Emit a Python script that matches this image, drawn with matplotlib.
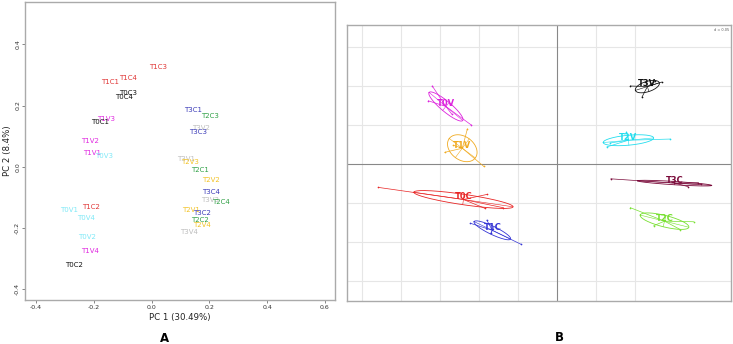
import numpy as np
import matplotlib
matplotlib.use("Agg")
import matplotlib.pyplot as plt

# ---------------- Panel A data (PCA sample scores) ----------------
a_labels = ["T1C3", "T1C4", "T1C1", "T0C3", "T0C4", "T3C1", "T2C3", "T1V3", "T0C1",
            "T3V2", "T3C3", "T1V2", "T1V1", "T0V3", "T3V1", "T2V3", "T2C1", "T2V2",
            "T3C4", "T3V3", "T2C4", "T1C2", "T0V1", "T2V1", "T3C2", "T0V4", "T2C2",
            "T2V4", "T3V4", "T0V2", "T1V4", "T0C2"]
a_pc1 = [0.021, -0.082, -0.142, -0.080, -0.094, 0.145, 0.204, -0.158, -0.178,
         0.171, 0.161, -0.212, -0.205, -0.164, 0.118, 0.133, 0.166, 0.206,
         0.206, 0.201, 0.239, -0.211, -0.284, 0.135, 0.174, -0.228, 0.166,
         0.176, 0.131, -0.225, -0.213, -0.269]
a_pc2 = [0.325, 0.289, 0.278, 0.242, 0.228, 0.185, 0.167, 0.157, 0.146,
         0.125, 0.114, 0.083, 0.044, 0.036, 0.024, 0.014, -0.009, -0.042,
         -0.083, -0.107, -0.116, -0.132, -0.141, -0.140, -0.150, -0.168, -0.174,
         -0.191, -0.214, -0.228, -0.274, -0.320]
a_colors = {"T0C": "#111111", "T1C": "#E03535", "T0V": "#7FE9F7", "T1V": "#E028E0",
            "T2C": "#2FA045", "T2V": "#F2C225", "T3C": "#3A3AB8", "T3V": "#BDBDBD"}
a_xticks = [-0.4, -0.2, 0.0, 0.2, 0.4, 0.6]
a_yticks = [-0.4, -0.2, 0.0, 0.2, 0.4]

# ---------------- Panel B data (group scores, 4 samples each) ----------------
b_groups = ["T0V", "T1V", "T0C", "T1C", "T3V", "T2V", "T3C", "T2C"]
b_x = {
    "T0V": [-0.160, -0.165, -0.110, -0.135],
    "T1V": [-0.115, -0.144, -0.094, -0.133],
    "T0C": [-0.229, -0.090, -0.092, -0.069],
    "T1C": [-0.111, -0.090, -0.085, -0.046],
    "T3V": [0.094, 0.134, 0.109, 0.126],
    "T2V": [0.089, 0.145, 0.064, 0.068],
    "T3C": [0.069, 0.181, 0.185, 0.168],
    "T2C": [0.094, 0.175, 0.124, 0.158],
}
b_y = {
    "T0V": [0.100, 0.081, 0.050, 0.064],
    "T1V": [0.045, 0.015, -0.003, 0.024],
    "T0C": [-0.030, -0.039, -0.057, -0.056],
    "T1C": [-0.076, -0.072, -0.089, -0.103],
    "T3V": [0.100, 0.105, 0.086, 0.106],
    "T2V": [0.041, 0.032, 0.022, 0.027],
    "T3C": [-0.019, -0.024, -0.026, -0.029],
    "T2C": [-0.056, -0.074, -0.079, -0.084],
}
b_colors = {"T0V": "#DD22DD", "T1V": "#F0AA20", "T0C": "#E82525", "T1C": "#3535D5",
            "T3V": "#111111", "T2V": "#22DDEE", "T3C": "#7A0A3A", "T2C": "#77E030"}
b_grid_x = [-0.25, -0.20, -0.15, -0.10, -0.05, 0.05, 0.10]
b_grid_y = [-0.15, -0.10, -0.05, 0.05, 0.10, 0.15]
b_d = "d = 0.05"

W, H = 733, 344
fig = plt.figure(figsize=(W / 100, H / 100), dpi=100)

# ---------------- Panel A ----------------
axA = fig.add_axes([25 / W, 1 - 300 / H, 310 / W, 298 / H])
for lab, x, y in zip(a_labels, a_pc1, a_pc2):
    axA.text(x, y, lab, color=a_colors[lab[:3]], fontsize=5, ha="center", va="center")
axA.set_xlim(-0.438, 0.635)
axA.set_ylim(-0.435, 0.538)
axA.set_xticks(a_xticks)
axA.set_yticks(a_yticks)
axA.set_xticklabels([f"{v:.1f}" for v in a_xticks])
axA.set_yticklabels([f"{v:.1f}" for v in a_yticks], rotation=90, va="center")
axA.tick_params(length=2, width=0.5, color="#555555", labelsize=4.5, pad=1.5,
                labelcolor="#333333")
for s in axA.spines.values():
    s.set_color("#AAAAAA")
    s.set_linewidth(1.0)
axA.set_xlabel("PC 1 (30.49%)", fontsize=6.2, labelpad=2, color="#222222")
axA.set_ylabel("PC 2 (8.4%)", fontsize=6.2, labelpad=2, color="#222222")
fig.text(165 / W, 1 - 338 / H, "A", fontsize=8.5, fontweight="bold", ha="center", va="center")

# ---------------- Panel B ----------------
axB = fig.add_axes([346.7 / W, 1 - 301 / H, 384 / W, 276 / H])
axB.set_xlim(-0.2697, 0.2226)
axB.set_ylim(-0.1756, 0.1782)
axB.set_xticks([])
axB.set_yticks([])
for gx in b_grid_x:
    axB.axvline(gx, color="#E6E6E6", lw=0.8, zorder=0)
for gy in b_grid_y:
    axB.axhline(gy, color="#E6E6E6", lw=0.8, zorder=0)
axB.axvline(0, color="#888888", lw=0.8, zorder=1)
axB.axhline(0, color="#888888", lw=0.8, zorder=1)
for s in axB.spines.values():
    s.set_color("#AAAAAA")
    s.set_linewidth(1.0)

t = np.linspace(0, 2 * np.pi, 200)
for g in b_groups:
    xs = np.array(b_x[g])
    ys = np.array(b_y[g])
    col = b_colors[g]
    cx, cy = xs.mean(), ys.mean()
    # star
    for xi, yi in zip(xs, ys):
        axB.plot([cx, xi], [cy, yi], color=col, lw=0.5, zorder=2)
    axB.scatter(xs, ys, s=1.5, color=col, zorder=3, linewidths=0)
    # ellipse from covariance
    cov = np.cov(np.vstack([xs, ys]), bias=True)
    vals, vecs = np.linalg.eigh(cov)
    a = np.sqrt(vals[1])
    b = np.sqrt(vals[0])
    v1 = vecs[:, 1]
    v2 = vecs[:, 0]
    ex = cx + a * np.cos(t) * v1[0] + b * np.sin(t) * v2[0]
    ey = cy + a * np.cos(t) * v1[1] + b * np.sin(t) * v2[1]
    axB.plot(ex, ey, color=col, lw=0.6, zorder=2)
    axB.plot([cx - a * v1[0], cx + a * v1[0]], [cy - a * v1[1], cy + a * v1[1]],
             color=col, lw=0.4, zorder=2)
    axB.plot([cx - b * v2[0], cx + b * v2[0]], [cy - b * v2[1], cy + b * v2[1]],
             color=col, lw=0.4, zorder=2)
    axB.annotate(g, (cx, cy), xytext=(0, 2), textcoords="offset points",
                 color=col, fontsize=6, fontweight="bold", ha="center", va="center",
                 zorder=4)
axB.text(0.995, 0.99, b_d, transform=axB.transAxes, fontsize=2.5, ha="right",
         va="top", color="#555555")
fig.text(559 / W, 1 - 337.7 / H, "B", fontsize=8.5, fontweight="bold", ha="center", va="center")

fig.savefig("out.png", dpi=100)
